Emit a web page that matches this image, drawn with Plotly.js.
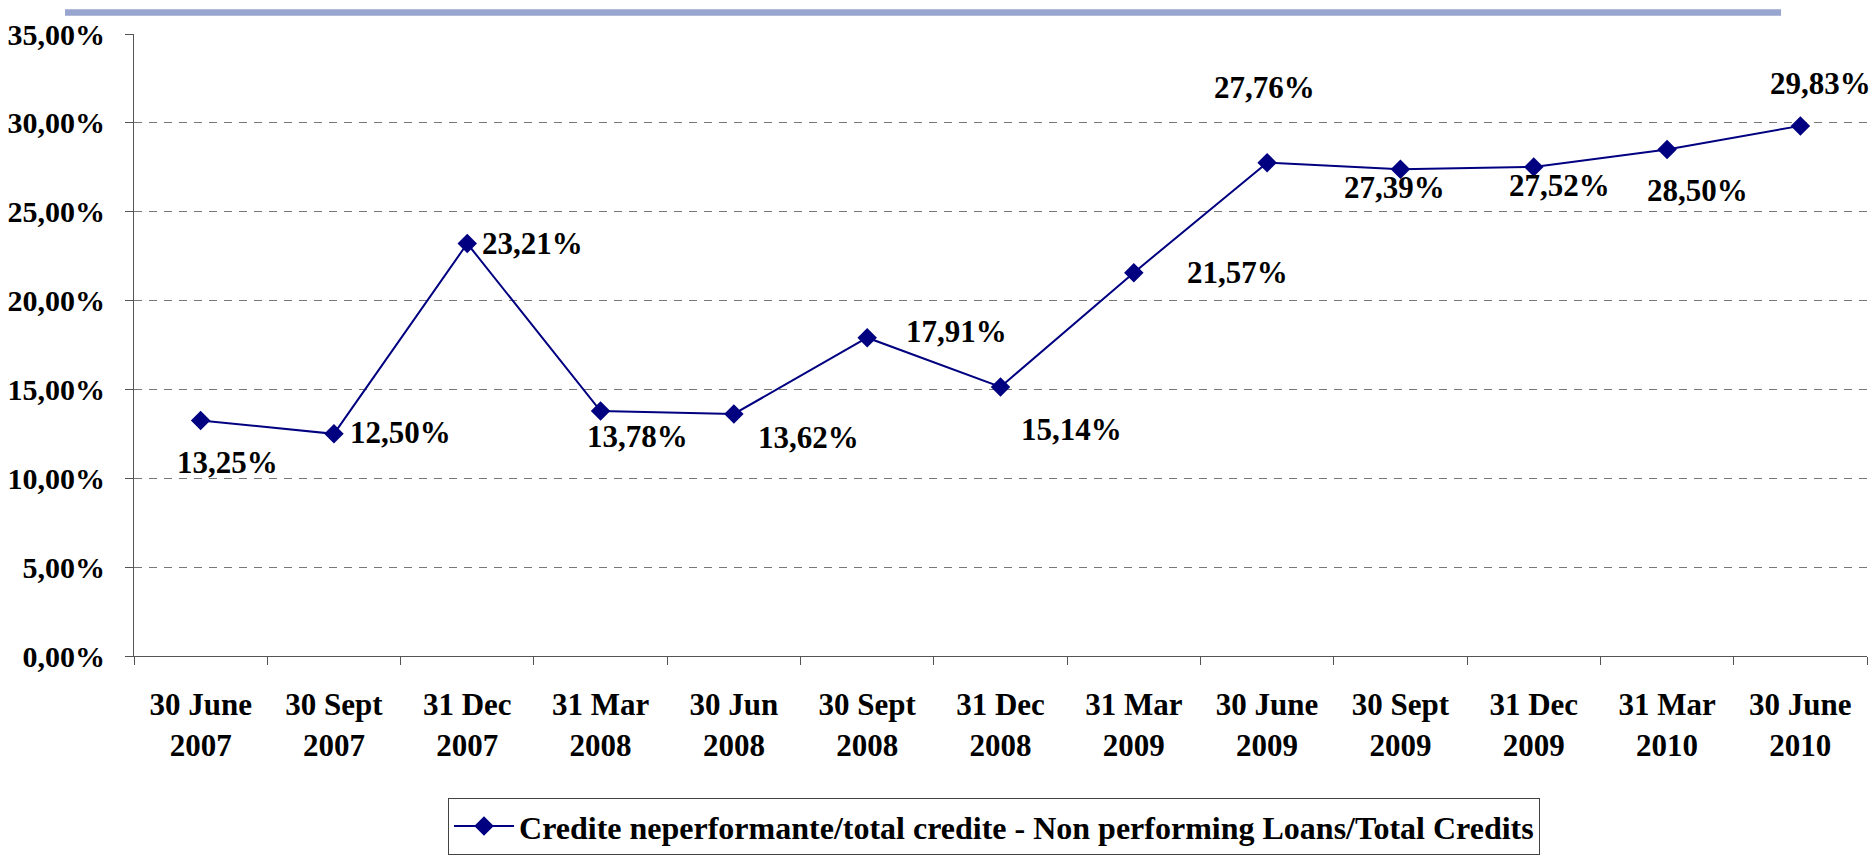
<!DOCTYPE html>
<html>
<head>
<meta charset="utf-8">
<script src="https://cdn.plot.ly/plotly-3.0.1.min.js"></script>
<style>
  html, body { margin: 0; padding: 0; background: #ffffff; }
  #chart { width: 1873px; height: 860px; }
</style>
</head>
<body>
<div id="chart"></div>
<script>
// ---- Data ----
const categories = [
  '30 June<br>2007', '30 Sept<br>2007', '31 Dec<br>2007', '31 Mar<br>2008',
  '30 Jun<br>2008', '30 Sept<br>2008', '31 Dec<br>2008', '31 Mar<br>2009',
  '30 June<br>2009', '30 Sept<br>2009', '31 Dec<br>2009', '31 Mar<br>2010',
  '30 June<br>2010'
];
const npLoanRatio = [13.25, 12.50, 23.21, 13.78, 13.62, 17.91, 15.14, 21.57, 27.76, 27.39, 27.52, 28.50, 29.83];
const seriesName = 'Credite neperformante/total credite - Non performing Loans/Total Credits';

// ---- Label placement (pixel offsets from each point: [dx, dy], dy down) ----
const labelOffsets = [
  [27, 42], [67, -1], [65, 0], [37, 25], [75, 24], [89, -6], [71, 43],
  [104, 0], [-3, -75], [-6, 18], [26, 19], [30, 41], [20, -42]
];

const FONT = 'Liberation Serif, Times New Roman, serif';
const fmt = v => v.toFixed(2).replace('.', ',') + '%';

const trace = {
  type: 'scatter',
  mode: 'lines+markers',
  x: categories,
  y: npLoanRatio,
  name: seriesName,
  line: { color: '#000080', width: 2 },
  marker: { symbol: 'diamond', size: 15, color: '#000080' },
  hoverinfo: 'skip'
};

const annotations = npLoanRatio.map((v, i) => ({
  x: categories[i], y: v, xref: 'x', yref: 'y',
  text: fmt(v), showarrow: false,
  xanchor: 'center', yanchor: 'middle',
  xshift: labelOffsets[i][0], yshift: -labelOffsets[i][1],
  font: { family: FONT, size: 31, color: '#000000', weight: 'bold' }
}));

const layout = {
  width: 1873, height: 860,
  margin: { l: 134, r: 6, t: 34, b: 203 },
  paper_bgcolor: '#ffffff', plot_bgcolor: '#ffffff',
  separators: ',.',
  showlegend: true,
  legend: {
    x: 0.1812, y: -0.226, xanchor: 'left', yanchor: 'top',
    bordercolor: '#444444', borderwidth: 1, bgcolor: '#ffffff',
    itemwidth: 60,
    font: { family: FONT, size: 32, color: '#000000', weight: 'bold' }
  },
  xaxis: {
    type: 'category', range: [-0.5, 12.5], autorange: false, automargin: false,
    showline: true, linecolor: '#555555', linewidth: 1,
    ticks: 'outside', ticklen: 8, tickcolor: '#555555', tickson: 'boundaries',
    showgrid: false, zeroline: false,
    tickfont: { family: FONT, size: 31, color: '#000000', weight: 'bold' },
    ticklabelstandoff: 21,
    fixedrange: true
  },
  yaxis: {
    range: [0, 35], autorange: false, automargin: false, dtick: 5, tick0: 0,
    tickformat: '.2f', ticksuffix: '%',
    showline: true, linecolor: '#555555', linewidth: 1,
    ticks: 'outside', ticklen: 8, tickcolor: '#555555',
    showgrid: true, gridcolor: '#777777', gridwidth: 1, griddash: '8px,7px',
    zeroline: false,
    tickfont: { family: FONT, size: 30, color: '#000000', weight: 'bold' },
    ticklabelstandoff: 14,
    fixedrange: true
  },
  shapes: [{
    type: 'rect', xref: 'paper', yref: 'paper',
    x0: -0.0398, x1: 0.9504, y0: 1.0295, y1: 1.0396,
    fillcolor: '#98A5CE', line: { width: 0 }, layer: 'above'
  }],
  annotations: annotations
};

Plotly.newPlot('chart', [trace], layout, { displayModeBar: false, staticPlot: true });
</script>
</body>
</html>
